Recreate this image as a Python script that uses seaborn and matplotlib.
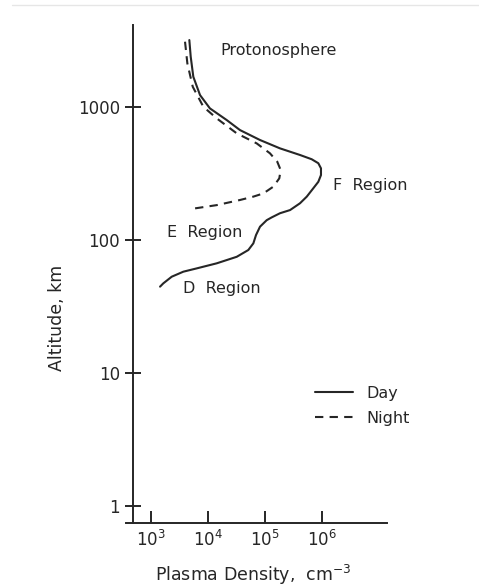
import numpy as np
import pandas as pd
import seaborn as sns
import matplotlib
matplotlib.use("Agg")
import matplotlib.pyplot as plt
from matplotlib.lines import Line2D

# Daytime electron density profile (cm^-3) versus altitude (km)
day_density = [4700, 4970, 5520, 7240, 10800, 21300, 36400, 81700, 183000,
               411000, 659000, 861000, 959000, 959000, 861000, 703000, 540000,
               411000, 275000, 183000, 131000, 107000, 81700, 69500, 62400,
               50900, 31900, 14200, 6340, 3690, 2310, 1640, 1440]
day_altitude = [3190, 2390, 1690, 1230, 977, 798, 671, 565, 489,
                436, 405, 378, 346, 308, 274, 245, 212,
                189, 168, 159, 148, 141, 126, 109, 94.4,
                84.1, 74.8, 66.8, 61.2, 57.8, 53.0, 47.2, 44.6]

# Nighttime profile
night_density = [3950, 4340, 5400, 8280, 14200, 31900, 71400, 122000, 164000,
                 188000, 178000, 140000, 93300, 62400, 36400, 14200, 5920]
night_altitude = [3100, 2130, 1420, 1005, 822, 634, 533, 449, 388,
                  336, 291, 252, 224, 212, 200, 183, 173]

ytick_values = [1, 10, 100, 1000]
ytick_labels = ["1", "10", "100", "1000"]
xtick_values = [1e3, 1e4, 1e5, 1e6]
xtick_labels = [r"$10^{3}$", r"$10^{4}$", r"$10^{5}$", r"$10^{6}$"]

region_labels = ["Protonosphere", "F  Region", "E  Region", "D  Region"]

sns.set_style("white")
plt.rcParams["font.family"] = ["DejaVu Sans"]
plt.rcParams["mathtext.fontset"] = "dejavusans"

ink = "#262626"
W, H = 479, 586
fig = plt.figure(figsize=(W / 100, H / 100), dpi=100)

# axes box in pixel terms: x 126..387, y 25..523
ax = fig.add_axes([126 / W, 1 - 523 / H, (387 - 126) / W, (523 - 25) / H])
ax.set_xscale("log")
ax.set_yscale("log")

df = pd.concat([
    pd.DataFrame({"density": day_density, "altitude": day_altitude, "period": "Day"}),
    pd.DataFrame({"density": night_density, "altitude": night_altitude, "period": "Night"}),
], ignore_index=True)

sns.lineplot(data=df, x="density", y="altitude", style="period",
             dashes={"Day": "", "Night": (4, 3)}, sort=False, estimator=None,
             color=ink, linewidth=1.5, legend=False, ax=ax)
for ln in ax.lines:
    ln.set_solid_joinstyle("round")
    ln.set_dash_joinstyle("round")

ax.set_xlim(10 ** 2.561, 10 ** 7.14)
ax.set_ylim(10 ** -0.128, 10 ** 3.617)

for s in ["top", "right"]:
    ax.spines[s].set_visible(False)
ax.spines["left"].set_position(("data", 10 ** 2.684))
for s in ["left", "bottom"]:
    ax.spines[s].set_color(ink)
    ax.spines[s].set_linewidth(1.4)

ax.set_yticks(ytick_values)
ax.set_yticklabels(ytick_labels)
ax.set_xticks(xtick_values)
ax.set_xticklabels(xtick_labels)
ax.minorticks_off()
ax.tick_params(axis="y", direction="inout", length=11, width=1.4, color=ink,
               labelsize=12, labelcolor=ink, pad=4, left=True)
ax.tick_params(axis="x", direction="in", length=8.5, width=1.4, color=ink,
               labelsize=12, labelcolor=ink, pad=5, bottom=True)

ax.set_xlabel(r"Plasma Density,  cm$^{-3}$", fontsize=12.5, color=ink, va="center")
ax.xaxis.set_label_coords(0.487, -0.104)
ax.set_ylabel("Altitude, km", fontsize=12.5, color=ink, va="center")
ax.yaxis.set_label_coords(-0.264, 0.412)

txt = dict(fontsize=11.5, color=ink, va="center")
ax.text(1.7e5, 2680, region_labels[0], ha="center", **txt)
ax.text(1.55e6, 259, region_labels[1], ha="left", **txt)
ax.text(1900, 113, region_labels[2], ha="left", **txt)
ax.text(3650, 43.5, region_labels[3], ha="left", **txt)

handles = [Line2D([], [], color=ink, lw=1.5),
           Line2D([], [], color=ink, lw=1.5, dashes=(4, 3))]
ax.legend(handles, ["Day", "Night"], loc="upper left",
          bbox_to_anchor=(315 / W, 1 - 386 / H), bbox_transform=fig.transFigure,
          frameon=False, fontsize=11.5, handlelength=2.4, handletextpad=0.8,
          labelspacing=0.6, borderpad=0, borderaxespad=0, labelcolor=ink)

# faint rule along the top edge
fig.add_artist(Line2D([12 / W, 1], [1 - 5 / H, 1 - 5 / H], color="#e6e6e6", lw=1))

fig.savefig("out.png", dpi=100)
